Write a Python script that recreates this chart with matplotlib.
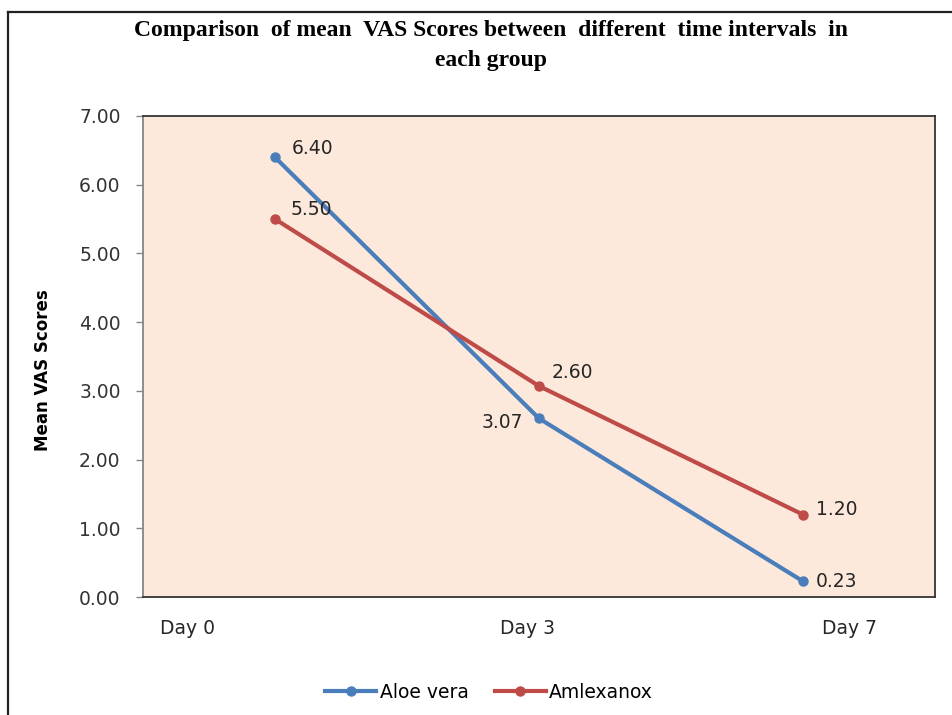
import matplotlib.pyplot as plt
from matplotlib.lines import Line2D

days = ["Day 0", "Day 3", "Day 7"]
aloe = [6.40, 2.60, 0.23]
amlex = [5.50, 3.07, 1.20]
aloe_labels = ["6.40", "3.07", "0.23"]
amlex_labels = ["5.50", "2.60", "1.20"]
yticks = [0, 1, 2, 3, 4, 5, 6, 7]

blue = "#4A7EBB"
red = "#BE4B48"
txt = "#262626"

fig = plt.figure(figsize=(9.52, 7.15), dpi=100)
ax = fig.add_axes([0.150, 0.165, 0.832, 0.673])
ax.set_facecolor("#FDE9DB")

x = range(len(days))
ax.plot(x, aloe, color=blue, lw=3, marker="o", ms=6.5, label="Aloe vera", zorder=3)
ax.plot(x, amlex, color=red, lw=3, marker="o", ms=6.5, label="Amlexanox", zorder=3)

# data labels, offsets in points
aloe_off = [(12, 6.5), (-11, -3), (9.5, -0.5)]
amlex_off = [(11, 7), (9.5, 10), (9.5, 3.5)]
for i in x:
    ax.annotate(aloe_labels[i], (i, aloe[i]), xytext=aloe_off[i], textcoords="offset points",
                ha="left" if aloe_off[i][0] > 0 else "right", va="center", fontsize=13.5,
                color=txt)
    ax.annotate(amlex_labels[i], (i, amlex[i]), xytext=amlex_off[i], textcoords="offset points",
                ha="left", va="center", fontsize=13.5, color=txt)

ax.set_xlim(-0.5, 2.5)
ax.set_ylim(0, 7)
ax.set_yticks(yticks)
ax.set_yticklabels(["%.2f" % v for v in yticks], fontsize=13.5, color="#333333")
ax.tick_params(axis="y", direction="out", length=5, width=1, color="#868686", pad=11)

# category labels are off the category centres in the original
ax.set_xticks([-0.33, 0.958, 2.178])
ax.set_xticklabels(days, fontsize=13.5, color=txt)
ax.tick_params(axis="x", length=0, pad=16)

for s in ["top", "right", "bottom"]:
    ax.spines[s].set_color("#333333")
    ax.spines[s].set_linewidth(1.3)
ax.spines["left"].set_color("#868686")
ax.spines["left"].set_linewidth(1.3)

fig.text(43 / 952, 1 - 370 / 715, "Mean VAS Scores", rotation=90, ha="center", va="center",
         fontsize=12, fontweight="bold", color="black")

fig.text(0.516, 0.958, "Comparison  of mean  VAS Scores between  different  time intervals  in",
         ha="center", va="center", fontsize=17, fontweight="bold", family="Liberation Serif")
fig.text(0.516, 0.916, "each group", ha="center", va="center", fontsize=17,
         fontweight="bold", family="Liberation Serif")

fig.legend(loc="center", bbox_to_anchor=(0.514, 0.032), ncol=2, frameon=False,
           handlelength=2.7, columnspacing=1.4, handletextpad=0.2,
           prop={"size": 13.5})

# outer chart frame
fig.add_artist(Line2D([0.0085, 0.0085], [0, 0.983], color="#222222", lw=1.6, transform=fig.transFigure))
fig.add_artist(Line2D([0.0085, 1], [0.983, 0.983], color="#222222", lw=1.6, transform=fig.transFigure))

fig.savefig("out.png", dpi=100)
